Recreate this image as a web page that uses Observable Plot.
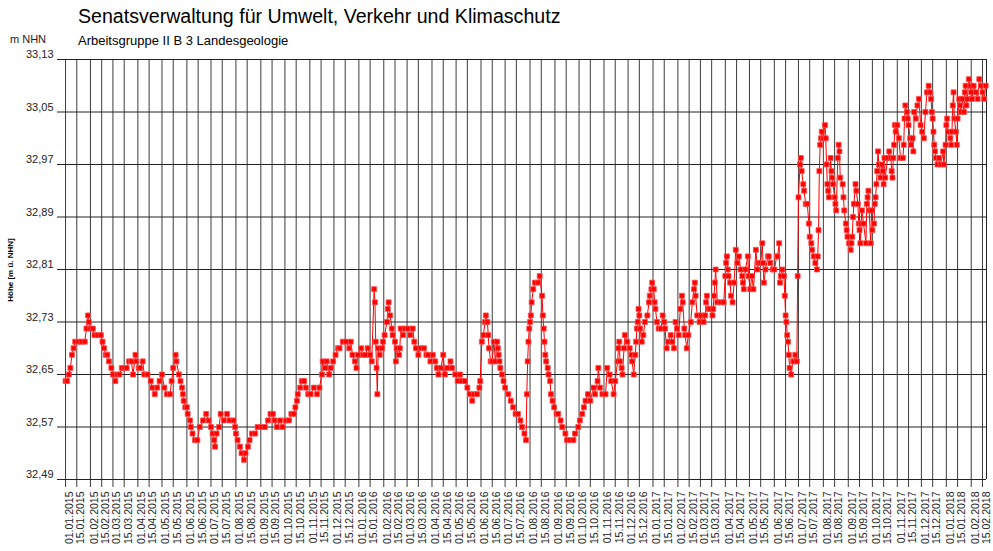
<!DOCTYPE html>
<html><head><meta charset="utf-8">
<script src="https://cdn.jsdelivr.net/npm/d3@7"></script>
<script src="https://cdn.jsdelivr.net/npm/@observablehq/plot@0.6"></script>
<style>
body{margin:0;background:#fff;}
#chart{position:relative;width:993px;height:551px;}
</style></head><body><div id="chart"></div>
<script>
const titleText = "Senatsverwaltung für Umwelt, Verkehr und Klimaschutz";
const subtitleText = "Arbeitsgruppe II B 3 Landesgeologie";
const unitText = "m NHN";
const axisTitleText = "Höhe [m ü. NHN]";
const yTicks = [32.49, 32.57, 32.65, 32.73, 32.81, 32.89, 32.97, 33.05, 33.13];
const xTickDates = [
 "2015-01-01","2015-01-15","2015-02-01","2015-02-15","2015-03-01","2015-03-15","2015-04-01","2015-04-15","2015-05-01","2015-05-15","2015-06-01","2015-06-15",
 "2015-07-01","2015-07-15","2015-08-01","2015-08-15","2015-09-01","2015-09-15","2015-10-01","2015-10-15","2015-11-01","2015-11-15","2015-12-01","2015-12-15",
 "2016-01-01","2016-01-15","2016-02-01","2016-02-15","2016-03-01","2016-03-15","2016-04-01","2016-04-15","2016-05-01","2016-05-15","2016-06-01","2016-06-15",
 "2016-07-01","2016-07-15","2016-08-01","2016-08-15","2016-09-01","2016-09-15","2016-10-01","2016-10-15","2016-11-01","2016-11-15","2016-12-01","2016-12-15",
 "2017-01-01","2017-01-15","2017-02-01","2017-02-15","2017-03-01","2017-03-15","2017-04-01","2017-04-15","2017-05-01","2017-05-15","2017-06-01","2017-06-15",
 "2017-07-01","2017-07-15","2017-08-01","2017-08-15","2017-09-01","2017-09-15","2017-10-01","2017-10-15","2017-11-01","2017-11-15","2017-12-01","2017-12-15",
 "2018-01-01","2018-01-15","2018-02-01","2018-02-15"];
const xDomain = ["2014-12-22", "2018-02-20"];

// Grundwasserstand [m NHN], [Tag.Monat-Schlüssel "MM-DD", Wert]
const levels2015 = [
 ["01-01",32.64],["01-03",32.64],["01-05",32.65],["01-07",32.66],["01-09",32.68],["01-11",32.69],["01-13",32.70],["01-17",32.70],["01-21",32.70],["01-25",32.70],
 ["01-27",32.72],["01-29",32.74],["01-30",32.73],["02-01",32.72],["02-04",32.72],["02-06",32.71],["02-10",32.71],["02-14",32.71],["02-16",32.70],["02-18",32.69],
 ["02-20",32.68],["02-22",32.68],["02-24",32.67],["02-27",32.66],["03-01",32.65],["03-04",32.64],["03-06",32.65],["03-09",32.65],["03-12",32.66],["03-15",32.66],
 ["03-18",32.66],["03-21",32.67],["03-24",32.67],["03-26",32.65],["03-29",32.68],["03-30",32.67],["04-02",32.66],["04-04",32.66],["04-07",32.67],["04-09",32.65],
 ["04-13",32.65],["04-17",32.64],["04-19",32.63],["04-22",32.62],["04-25",32.63],["04-28",32.64],["05-01",32.65],["05-04",32.63],["05-07",32.62],["05-11",32.62],
 ["05-13",32.64],["05-15",32.66],["05-18",32.68],["05-19",32.67],["05-22",32.65],["05-24",32.64],["05-26",32.63],["05-27",32.62],["05-28",32.61],["05-30",32.60],
 ["06-01",32.60],["06-02",32.59],["06-05",32.58],["06-06",32.57],["06-08",32.56],["06-11",32.55],["06-14",32.55],["06-17",32.57],["06-21",32.58],["06-25",32.59],
 ["06-28",32.58],["07-01",32.57],["07-03",32.56],["07-05",32.55],["07-06",32.54],["07-08",32.56],["07-11",32.57],["07-13",32.59],["07-17",32.58],["07-21",32.59],
 ["07-24",32.58],["07-29",32.58],["07-31",32.57],["08-01",32.56],["08-03",32.55],["08-06",32.54],["08-08",32.53],["08-11",32.52],["08-13",32.53],["08-16",32.54],
 ["08-18",32.55],["08-21",32.56],["08-25",32.56],["08-28",32.57],["09-02",32.57],["09-06",32.57],["09-10",32.58],["09-13",32.59],["09-16",32.59],["09-18",32.58],
 ["09-21",32.57],["09-25",32.58],["09-28",32.57],["10-02",32.58],["10-06",32.58],["10-09",32.59],["10-12",32.59],["10-14",32.60],["10-16",32.61],["10-17",32.62],
 ["10-20",32.63],["10-22",32.64],["10-25",32.64],["10-27",32.63],["10-30",32.62],["11-02",32.62],["11-06",32.63],["11-10",32.62],["11-13",32.63],["11-16",32.65],
 ["11-17",32.67],["11-20",32.66],["11-22",32.67],["11-25",32.65],["11-27",32.66],["11-30",32.67],["12-03",32.68],["12-06",32.69],["12-08",32.69],["12-12",32.70],
 ["12-16",32.70],["12-20",32.69],["12-22",32.70],["12-24",32.68],["12-27",32.67],["12-29",32.66],["12-31",32.68]];
const levels2016 = [
 ["01-04",32.69],["01-06",32.68],["01-09",32.68],["01-12",32.69],["01-15",32.68],["01-17",32.67],["01-20",32.78],["01-21",32.76],["01-22",32.70],["01-23",32.66],
 ["01-24",32.62],["01-25",32.69],["01-27",32.68],["01-30",32.69],["01-31",32.70],["02-02",32.71],["02-05",32.73],["02-06",32.75],["02-07",32.76],["02-09",32.74],
 ["02-11",32.72],["02-12",32.71],["02-15",32.70],["02-16",32.67],["02-17",32.69],["02-20",32.68],["02-21",32.69],["02-22",32.72],["02-25",32.71],["02-27",32.72],
 ["03-02",32.72],["03-05",32.71],["03-08",32.72],["03-10",32.70],["03-12",32.69],["03-15",32.68],["03-18",32.69],["03-22",32.69],["03-25",32.68],["03-27",32.68],
 ["03-30",32.67],["04-02",32.68],["04-05",32.67],["04-07",32.66],["04-09",32.65],["04-12",32.66],["04-15",32.68],["04-17",32.65],["04-20",32.66],["04-24",32.67],
 ["04-26",32.66],["04-30",32.65],["05-03",32.64],["05-06",32.65],["05-08",32.64],["05-12",32.64],["05-15",32.63],["05-18",32.62],["05-21",32.61],["05-23",32.62],
 ["05-27",32.62],["05-30",32.63],["05-31",32.64],["06-02",32.70],["06-04",32.71],["06-06",32.73],["06-07",32.74],["06-09",32.73],["06-10",32.71],["06-11",32.69],
 ["06-13",32.67],["06-15",32.67],["06-17",32.70],["06-19",32.67],["06-21",32.70],["06-22",32.69],["06-23",32.68],["06-24",32.67],["06-25",32.66],["06-27",32.65],
 ["06-29",32.64],["07-01",32.63],["07-05",32.62],["07-08",32.61],["07-11",32.60],["07-14",32.59],["07-17",32.59],["07-20",32.58],["07-22",32.57],["07-25",32.56],
 ["07-27",32.55],["07-28",32.62],["07-29",32.67],["07-30",32.70],["07-31",32.72],["08-01",32.73],["08-02",32.74],["08-03",32.76],["08-05",32.78],["08-07",32.79],
 ["08-11",32.79],["08-13",32.80],["08-16",32.77],["08-17",32.74],["08-18",32.72],["08-19",32.70],["08-20",32.68],["08-21",32.67],["08-23",32.66],["08-24",32.65],
 ["08-26",32.64],["08-27",32.62],["08-29",32.61],["08-31",32.60],["09-03",32.59],["09-05",32.59],["09-08",32.58],["09-10",32.57],["09-14",32.56],["09-16",32.55],
 ["09-20",32.55],["09-24",32.55],["09-26",32.56],["09-30",32.57],["10-02",32.58],["10-05",32.59],["10-07",32.60],["10-09",32.61],["10-12",32.62],["10-15",32.61],
 ["10-19",32.63],["10-21",32.62],["10-24",32.64],["10-25",32.66],["10-27",32.63],["10-30",32.62],["11-03",32.62],["11-05",32.66],["11-08",32.65],["11-10",32.64],
 ["11-13",32.62],["11-15",32.64],["11-18",32.67],["11-19",32.69],["11-20",32.70],["11-21",32.67],["11-23",32.66],["11-24",32.65],["11-26",32.69],["11-27",32.71],
 ["11-30",32.70],["12-03",32.69],["12-05",32.68],["12-06",32.67],["12-08",32.65],["12-10",32.68],["12-11",32.70],["12-12",32.72],["12-13",32.73],["12-14",32.75],
 ["12-15",32.74],["12-16",32.72],["12-18",32.70],["12-20",32.71],["12-22",32.73],["12-25",32.74],["12-27",32.76],["12-28",32.77],["12-30",32.78],["12-31",32.79]];
const levels2017 = [
 ["01-02",32.78],["01-03",32.76],["01-04",32.75],["01-06",32.73],["01-08",32.72],["01-11",32.72],["01-13",32.74],["01-15",32.73],["01-16",32.72],["01-18",32.69],
 ["01-20",32.70],["01-23",32.71],["01-25",32.70],["01-27",32.69],["01-29",32.73],["01-31",32.72],["02-02",32.71],["02-04",32.75],["02-06",32.77],["02-07",32.76],
 ["02-09",32.72],["02-10",32.71],["02-12",32.69],["02-14",32.71],["02-17",32.73],["02-19",32.76],["02-21",32.78],["02-22",32.79],["02-23",32.77],["02-25",32.74],
 ["02-28",32.73],["03-02",32.74],["03-05",32.73],["03-07",32.74],["03-08",32.76],["03-09",32.77],["03-11",32.75],["03-13",32.75],["03-16",32.74],["03-17",32.75],
 ["03-18",32.77],["03-19",32.79],["03-20",32.81],["03-22",32.76],["03-26",32.76],["03-30",32.76],["04-01",32.80],["04-02",32.82],["04-03",32.83],["04-04",32.81],
 ["04-05",32.80],["04-07",32.79],["04-08",32.77],["04-10",32.76],["04-12",32.79],["04-14",32.84],["04-16",32.82],["04-18",32.83],["04-20",32.81],["04-22",32.80],
 ["04-23",32.79],["04-24",32.78],["04-26",32.81],["04-29",32.83],["04-30",32.80],["05-02",32.78],["05-04",32.80],["05-06",32.78],["05-09",32.84],["05-11",32.81],
 ["05-12",32.82],["05-15",32.82],["05-17",32.85],["05-18",32.82],["05-19",32.79],["05-21",32.81],["05-24",32.83],["05-25",32.83],["05-27",32.82],["05-30",32.81],
 ["06-01",32.81],["06-04",32.83],["06-05",32.83],["06-07",32.85],["06-08",32.79],["06-09",32.80],["06-11",32.81],["06-13",32.80],["06-14",32.77],["06-15",32.74],
 ["06-16",32.73],["06-17",32.71],["06-18",32.70],["06-19",32.68],["06-20",32.66],["06-22",32.65],["06-24",32.67],["06-25",32.67],["06-27",32.68],["06-29",32.67],
 ["06-30",32.80],["07-01",32.92],["07-03",32.97],["07-04",32.98],["07-05",32.96],["07-07",32.94],["07-08",32.93],["07-10",32.91],["07-12",32.91],["07-14",32.88],
 ["07-15",32.86],["07-17",32.85],["07-18",32.84],["07-20",32.83],["07-22",32.82],["07-24",32.81],["07-25",32.83],["07-26",32.87],["07-27",32.96],["07-28",33.00],
 ["07-29",33.01],["07-30",33.02],["08-01",33.01],["08-03",33.03],["08-04",33.01],["08-05",32.97],["08-06",32.94],["08-07",32.93],["08-08",32.92],["08-10",32.98],
 ["08-11",32.96],["08-12",32.95],["08-13",32.94],["08-15",32.92],["08-16",32.91],["08-17",32.90],["08-19",32.98],["08-20",33.00],["08-21",32.99],["08-22",32.95],
 ["08-25",32.94],["08-26",32.92],["08-27",32.90],["08-29",32.88],["08-30",32.87],["08-31",32.86],["09-02",32.85],["09-04",32.84],["09-05",32.85],["09-06",32.86],
 ["09-07",32.89],["09-08",32.91],["09-10",32.94],["09-11",32.93],["09-13",32.91],["09-14",32.88],["09-15",32.87],["09-16",32.85],["09-17",32.88],["09-18",32.90],
 ["09-20",32.88],["09-23",32.85],["09-24",32.91],["09-25",32.92],["09-26",32.93],["09-27",32.90],["09-29",32.85],["09-30",32.90],["10-01",32.87],["10-03",32.88],
 ["10-04",32.91],["10-05",32.92],["10-06",32.94],["10-07",32.96],["10-08",32.99],["10-09",32.97],["10-11",32.95],["10-13",32.97],["10-14",32.96],["10-15",32.94],
 ["10-16",32.98],["10-17",32.95],["10-20",32.98],["10-22",32.99],["10-24",32.98],["10-25",32.96],["10-26",32.95],["10-27",32.98],["10-28",33.00],["10-29",33.03],
 ["10-30",33.02],["11-01",33.03],["11-03",33.01],["11-05",32.98],["11-08",32.98],["11-09",33.00],["11-10",33.04],["11-11",33.06],["11-13",33.05],["11-14",33.04],
 ["11-15",33.03],["11-17",33.01],["11-18",33.00],["11-20",33.01],["11-21",32.99],["11-22",33.05],["11-24",33.04],["11-26",33.06],["11-28",33.07],["11-30",33.03],
 ["12-02",33.02],["12-04",33.01],["12-06",33.05],["12-08",33.08],["12-10",33.09],["12-12",33.08],["12-13",33.07],["12-14",33.05],["12-15",33.04],["12-16",33.02],
 ["12-17",33.00],["12-18",32.99],["12-19",32.98],["12-21",32.97],["12-23",32.98],["12-25",32.97],["12-28",32.99],["12-29",32.97],["12-31",33.00]];
const levels2018 = [
 ["01-01",33.03],["01-02",33.04],["01-03",33.02],["01-06",33.01],["01-07",33.00],["01-08",33.02],["01-09",33.06],["01-10",33.08],["01-11",33.04],["01-13",33.02],
 ["01-14",33.00],["01-15",33.04],["01-17",33.07],["01-18",33.06],["01-19",33.05],["01-21",33.07],["01-23",33.05],["01-24",33.08],["01-25",33.09],["01-26",33.06],
 ["01-27",33.07],["01-29",33.10],["01-31",33.09],["02-01",33.08],["02-02",33.07],["02-04",33.09],["02-07",33.08],["02-09",33.07],["02-11",33.10],["02-13",33.09],
 ["02-15",33.08],["02-17",33.07],["02-19",33.09]];

const years = [["2015", levels2015], ["2016", levels2016], ["2017", levels2017], ["2018", levels2018]];
const data = years.flatMap(([yr, arr]) => arr.map(([md, v]) => ({date: new Date(`${yr}-${md}T00:00:00Z`), value: v})));
const xTicks = xTickDates.map(d => new Date(d + "T00:00:00Z"));
const xDom = xDomain.map(d => new Date(d + "T00:00:00Z"));
const fmtDate = d3.utcFormat("%d.%m.%Y");
const fmtNum = d => d.toFixed(2).replace(".", ",");

const chart = Plot.plot({
  width: 993, height: 551,
  marginLeft: 57, marginRight: 7, marginTop: 59, marginBottom: 72,
  style: {fontFamily: "Arial, 'Liberation Sans', sans-serif", fontSize: "11px", background: "#fff", color: "#000", overflow: "visible"},
  x: {type: "utc", domain: xDom},
  y: {domain: [32.49, 33.13]},
  marks: [
    Plot.ruleX(xTicks, {stroke: "#3c3c3c", strokeWidth: 1, insetBottom: -8}),
    Plot.ruleY(yTicks, {stroke: "#222", strokeWidth: 1}),
    Plot.ruleX([xDom[1]], {stroke: "#222", strokeWidth: 1}),
    Plot.axisY({ticks: yTicks, tickSize: 0, tickPadding: 4, tickFormat: fmtNum, dy: -5, fontSize: 11, label: null, fill: "#222"}),
    Plot.axisX({ticks: xTicks, tickSize: 0, tickPadding: 12, tickRotate: -90, tickFormat: fmtDate, fontSize: 10.5, label: null, dx: 4, fill: "#222"}),
    Plot.line(data, {x: "date", y: "value", stroke: "#ff0000", strokeWidth: 1}),
    Plot.dot(data, {x: "date", y: "value", symbol: "square", r: 2.8, fill: "#ff0000", stroke: "#ff5050", strokeWidth: 0.8})
  ]
});
document.getElementById("chart").appendChild(chart);

const svg = d3.select(chart);
const font = "Arial, 'Liberation Sans', sans-serif";
const addText = (x, y, size, txt, extra = {}) => {
  const t = svg.append("text").attr("x", x).attr("y", y).attr("text-anchor", "start")
    .attr("font-family", font).attr("font-size", size).attr("fill", extra.fill || "#000").text(txt);
  if (extra.weight) t.attr("font-weight", extra.weight);
  return t;
};
addText(78, 23, 19.6, titleText);
addText(78, 45, 13, subtitleText);
addText(10, 43, 11, unitText, {fill: "#222"});
svg.append("text").attr("transform", "translate(13,270) rotate(-90)").attr("text-anchor", "middle")
  .attr("font-family", font).attr("font-size", 8).attr("font-weight", "bold").attr("fill", "#000").text(axisTitleText);
</script>
</body></html>
